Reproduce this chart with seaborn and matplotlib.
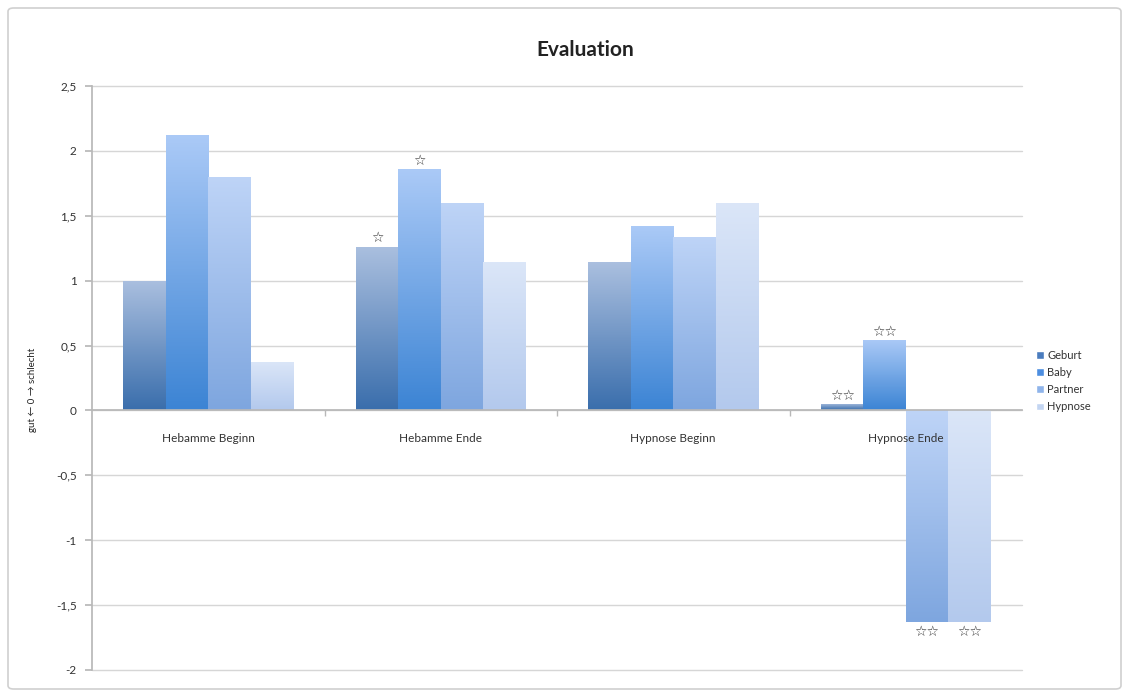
import numpy as np
import pandas as pd
import matplotlib
matplotlib.use("Agg")
import matplotlib.pyplot as plt
import seaborn as sns
from matplotlib.colors import LinearSegmentedColormap
from matplotlib.patches import FancyBboxPatch
from matplotlib.ticker import FuncFormatter, FixedLocator

# Phases of the questionnaire and the rated areas
phasen = ["Hebamme Beginn", "Hebamme Ende", "Hypnose Beginn", "Hypnose Ende"]
bereiche = ["Geburt", "Baby", "Partner", "Hypnose"]

# Mean ratings per area (one list per area, in the order of `phasen`)
geburt = [1.00, 1.26, 1.14, 0.05]
baby = [2.12, 1.86, 1.42, 0.54]
partner = [1.80, 1.60, 1.34, -1.63]
hypnose = [0.37, 1.14, 1.60, -1.63]

# Significance markers (same layout as the ratings)
sterne_geburt = ["", "☆", "", "☆☆"]
sterne_baby = ["", "☆", "", "☆☆"]
sterne_partner = ["", "", "", "☆☆"]
sterne_hypnose = ["", "", "", "☆☆"]

y_ticks = [-2, -1.5, -1, -0.5, 0, 0.5, 1, 1.5, 2, 2.5]

werte = [geburt, baby, partner, hypnose]
sterne = [sterne_geburt, sterne_baby, sterne_partner, sterne_hypnose]

df = pd.DataFrame({
    "Phase": np.repeat([phasen], len(bereiche), axis=0).ravel(),
    "Bereich": np.repeat(bereiche, len(phasen)),
    "Wert": np.ravel(werte),
})

# solid colours (legend) and bottom/top gradient colours for the bars
palette = ["#4a7cbe", "#4d8ee0", "#8fb4ea", "#c3d5f2"]
verlauf = [("#3a6eac", "#aabfdf"), ("#3c84d4", "#abcaf7"),
           ("#7ea6df", "#bed4f7"), ("#b3c9ed", "#dbe6f8")]

sns.set_theme(style="white")
plt.rcParams["font.family"] = ["Lato", "DejaVu Sans"]

fig = plt.figure(figsize=(11.29, 6.97), dpi=100)
ax = fig.add_axes([92 / 1129, 1 - 670 / 697, 930 / 1129, 584 / 697])

sns.barplot(data=df, x="Phase", y="Wert", hue="Bereich", order=phasen,
            hue_order=bereiche, palette=palette, width=0.73, saturation=1,
            errorbar=None, ax=ax, legend=True)

ax.set_ylim(-2, 2.5)
xlim = ax.get_xlim()

# vertical gradient inside each bar
for cont, (lo, hi), marks in zip(ax.containers, verlauf, sterne):
    cmap = LinearSegmentedColormap.from_list("bar", [lo, hi])
    for bar, mark in zip(cont, marks):
        bar.set_edgecolor("none")
        bar.set_zorder(1)
        x0, y0 = bar.get_x(), bar.get_y()
        w, h = bar.get_width(), bar.get_height()
        ybot, ytop = min(y0, y0 + h), max(y0, y0 + h)
        img = ax.imshow(np.linspace(0, 1, 128).reshape(-1, 1), cmap=cmap,
                        extent=(x0, x0 + w, ybot, ytop), origin="lower",
                        aspect="auto", zorder=1.2, interpolation="bilinear")
        img.set_clip_path(bar)
        if mark:
            if h >= 0:
                ax.annotate(mark, (x0 + w / 2, ytop), xytext=(0, 1),
                            textcoords="offset points", ha="center", va="bottom",
                            fontsize=10, family="DejaVu Sans", color="#333333")
            else:
                ax.annotate(mark, (x0 + w / 2, ybot), xytext=(0, -2),
                            textcoords="offset points", ha="center", va="top",
                            fontsize=10, family="DejaVu Sans", color="#333333")

ax.set_xlim(xlim)
ax.set_ylim(-2, 2.5)

# axes styling
ax.set_axisbelow(True)
ax.yaxis.set_major_locator(FixedLocator(y_ticks))
ax.yaxis.set_major_formatter(FuncFormatter(lambda v, _: f"{v:g}".replace(".", ",")))
ax.grid(axis="y", color="#d6d6d6", linewidth=1)
ax.grid(axis="x", visible=False)
for gl in ax.get_ygridlines():
    gl.set_clip_on(False)
for s in ["top", "right"]:
    ax.spines[s].set_visible(False)
ax.spines["left"].set_color("#b8b8b8")
ax.spines["bottom"].set_color("#b8b8b8")
ax.spines["bottom"].set_position(("data", 0))
ax.xaxis.set_zorder(5)
ax.spines["bottom"].set_zorder(5)
ax.tick_params(axis="y", left=True, length=5, color="#b8b8b8", labelsize=8.5,
               labelcolor="#333333", pad=6)
ax.tick_params(axis="x", bottom=False, labelsize=8.5, labelcolor="#333333", pad=10)
ax.xaxis.set_minor_locator(FixedLocator([0.5, 1.5, 2.5]))
ax.tick_params(axis="x", which="minor", bottom=True, length=4, color="#b8b8b8")
ax.set_xlabel("")
ax.set_ylabel("gut ← 0 → schlecht", fontsize=7, color="#222222")
ax.yaxis.set_label_coords(-0.059, 0.48)

# legend on the right
handles, labels = ax.get_legend_handles_labels()
ax.legend(handles, labels, loc="upper left", bbox_to_anchor=(1026 / 1129, 1 - 340 / 697),
          bbox_transform=fig.transFigure, frameon=False, fontsize=8,
          handlelength=0.7, handleheight=0.7, handletextpad=0.3, labelspacing=0.55,
          labelcolor="#333333")

fig.text(585 / 1129, 1 - 50 / 697, "Evaluation", ha="center", va="center",
         fontsize=15, fontweight="bold", color="#222222")

# light frame round the chart
fig.patches.append(FancyBboxPatch((8 / 1129, 8 / 697), 1113 / 1129, 681 / 697,
                                  boxstyle="round,pad=0,rounding_size=0.005",
                                  transform=fig.transFigure, facecolor="none",
                                  edgecolor="#d0d0d0", linewidth=1.2))

fig.savefig("out.png", dpi=100)
